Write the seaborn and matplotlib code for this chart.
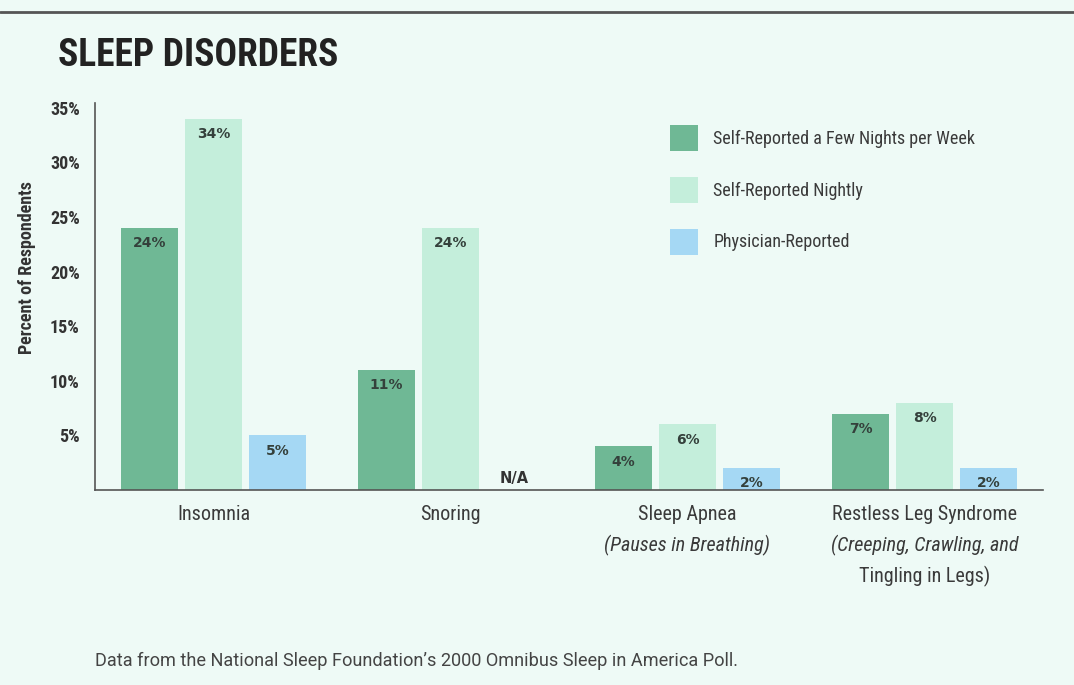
import numpy as np
import pandas as pd
import matplotlib
matplotlib.use("Agg")
import matplotlib.pyplot as plt
import seaborn as sns
from matplotlib import font_manager
from matplotlib.lines import Line2D

# Data
disorders = ["Insomnia", "Snoring", "Sleep Apnea", "Restless Leg Syndrome"]
subtitles = ["", "", "(Pauses in Breathing)", "(Creeping, Crawling, and"]
subtitles2 = ["", "", "", "Tingling in Legs)"]
series = ["Self-Reported a Few Nights per Week", "Self-Reported Nightly", "Physician-Reported"]
few_nights = [24, 11, 4, 7]
nightly = [34, 24, 6, 8]
physician = [5, np.nan, 2, 2]
yticks = [5, 10, 15, 20, 25, 30, 35]

colors = ["#6fb895", "#c4eedb", "#a5d8f4"]
bg = "#eefaf6"

# pick a condensed family if one is installed
names = {f.name for f in font_manager.fontManager.ttflist}
def pick(*cands):
    for c in cands:
        if c in names:
            return c
    return "DejaVu Sans"

cond = pick("Roboto Condensed", "Liberation Sans Narrow", "DejaVu Sans Condensed", "DejaVu Sans")
plain = pick("Roboto", "Liberation Sans", "DejaVu Sans")

sns.set_theme(style="white")
plt.rcParams["font.family"] = [cond, "DejaVu Sans"]

df = pd.DataFrame({
    "disorder": np.repeat(disorders, 3),
    "series": series * len(disorders),
    "value": np.ravel(np.column_stack([few_nights, nightly, physician])),
})

fig = plt.figure(figsize=(10.74, 6.85), dpi=100, facecolor=bg)
ax = fig.add_axes([95 / 1074, 1 - 490 / 685, (1043 - 95) / 1074, (490 - 103) / 685])
ax.set_facecolor(bg)

sns.barplot(data=df.dropna(), x="disorder", y="value", hue="series",
            order=disorders, hue_order=series, palette=colors,
            width=0.81, gap=0.1, errorbar=None, saturation=1,
            linewidth=0, edgecolor="none", ax=ax)

ax.set_xlim(-0.5, 3.5)
ax.set_ylim(0, 35.45)

# value labels inside the bars
for cont in ax.containers:
    for p in cont:
        h = p.get_height()
        if np.isfinite(h) and h > 0:
            ax.annotate(f"{h:.0f}%", (p.get_x() + p.get_width() / 2, h),
                        xytext=(0, -11), textcoords="offset points",
                        ha="center", va="center", fontsize=10, fontweight="bold",
                        color="#34403b", family="DejaVu Sans")

# N/A marker for the missing physician-reported snoring value
ax.annotate("N/A", (1 + 0.27, 0), xytext=(0, 8), textcoords="offset points",
            ha="center", va="center", fontsize=10.5, fontweight="bold",
            color="#333333", family="DejaVu Sans")

# axes styling
sns.despine(ax=ax)
for s in ["left", "bottom"]:
    ax.spines[s].set_color("#555555")
    ax.spines[s].set_linewidth(1.2)

ax.set_yticks(yticks)
ax.set_yticklabels([f"{v}%" for v in yticks], fontsize=13, fontweight="bold", color="#333333")
ax.tick_params(axis="y", length=0, pad=11)
ax.set_xticks(range(len(disorders)))
ax.set_xticklabels(disorders, fontsize=14.5, color="#3a3a3a")
ax.tick_params(axis="x", length=0, pad=11)
ax.set_xlabel("")
ax.set_ylabel("Percent of Respondents", fontsize=13, fontweight="bold", color="#333333")
ax.yaxis.set_label_coords(-0.062, 0.576)

for i, (s1, s2) in enumerate(zip(subtitles, subtitles2)):
    if s1:
        ax.annotate(s1, (i, 0), xycoords=("data", "axes fraction"), xytext=(0, -39.6),
                    textcoords="offset points", ha="center", va="center",
                    fontsize=14.5, style="italic", color="#3a3a3a")
    if s2:
        ax.annotate(s2, (i, 0), xycoords=("data", "axes fraction"), xytext=(0, -62),
                    textcoords="offset points", ha="center", va="center",
                    fontsize=14.5, color="#3a3a3a")

# legend
handles, labels = ax.get_legend_handles_labels()
ax.legend(handles, labels, loc="upper left", frameon=False,
          bbox_to_anchor=(670 / 1074, 1 - 125 / 685), bbox_transform=fig.transFigure,
          borderpad=0, borderaxespad=0, handlelength=1.55, handleheight=1.85,
          labelspacing=1.42, handletextpad=0.85,
          prop={"family": cond, "size": 13}, labelcolor="#3a3a3a")

# title, rule and footer
fig.add_artist(Line2D([0, 1], [1 - 12 / 685] * 2, transform=fig.transFigure,
                      color="#555555", lw=2))
fig.text(58 / 1074, 1 - 56 / 685, "SLEEP DISORDERS", fontsize=27, fontweight="bold",
         color="#222222", va="center", ha="left")
fig.text(95 / 1074, 1 - 661 / 685,
         "Data from the National Sleep Foundation\u2019s 2000 Omnibus Sleep in America Poll.",
         fontsize=13.1, color="#444444", va="center", ha="left", family=plain)

fig.savefig("out.png", dpi=100, facecolor=bg)
